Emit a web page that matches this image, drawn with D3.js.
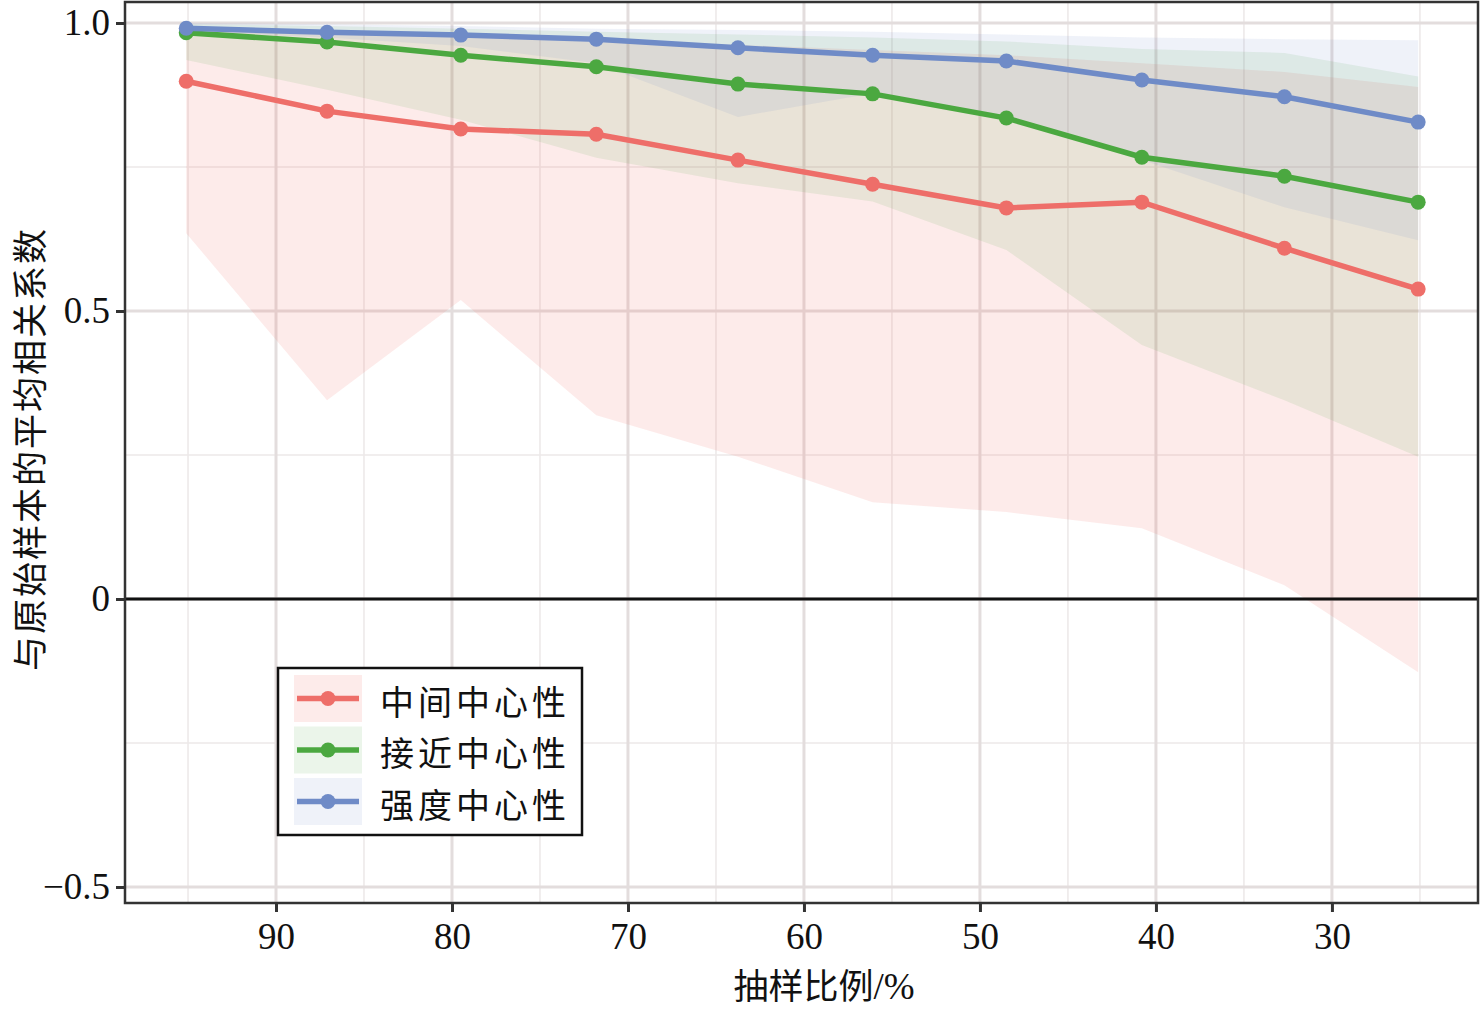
<!DOCTYPE html>
<html lang="zh">
<head>
<meta charset="utf-8">
<title>抽样比例与平均相关系数</title>
<script src="https://d3js.org/d3.v7.min.js"></script>
<style>
    body { margin: 0; background: #fff; }
    svg text { fill: #111; }
    .tick-label { font-family: "Liberation Serif", "DejaVu Serif", serif; font-size: 37px; }
    .cjk { font-family: "Noto Sans CJK SC", sans-serif; }
</style>
</head>
<body>
<div id="chart"></div>
<script>
    // sampling ratio (%) on the x axis
    const ratios = [95.1, 87.1, 79.5, 71.8, 63.75, 56.1, 48.5, 40.8, 32.7, 25.1];

    const seriesNames = ["中间中心性", "接近中心性", "强度中心性"];
    const seriesColors = ["#ee6e69", "#4ba840", "#6f8bc7"];

    // mean values
    const betweenMean = [0.899, 0.847, 0.816, 0.807, 0.762, 0.720, 0.679, 0.689, 0.609, 0.538];
    const closeMean   = [0.983, 0.967, 0.944, 0.924, 0.894, 0.877, 0.835, 0.767, 0.734, 0.689];
    const strengthMean = [0.991, 0.984, 0.979, 0.972, 0.957, 0.944, 0.934, 0.901, 0.872, 0.828];

    // ribbon bounds
    const betweenLow  = [0.635, 0.345, 0.519, 0.319, 0.247, 0.168, 0.151, 0.123, 0.024, -0.127];
    const betweenHigh = [0.990, 0.988, 0.980, 0.970, 0.962, 0.953, 0.944, 0.930, 0.915, 0.889];
    const closeLow  = [0.936, 0.884, 0.832, 0.766, 0.722, 0.690, 0.606, 0.441, 0.345, 0.247];
    const closeHigh = [0.998, 0.995, 0.990, 0.985, 0.980, 0.975, 0.968, 0.955, 0.948, 0.907];
    const strengthLow  = [0.985, 0.975, 0.960, 0.930, 0.837, 0.878, 0.835, 0.762, 0.680, 0.623];
    const strengthHigh = [1.000, 0.998, 0.995, 0.990, 0.988, 0.985, 0.980, 0.975, 0.972, 0.970];

    const yTicks = [1.0, 0.5, 0, -0.5];
    const yTickLabels = ["1.0", "0.5", "0", "\u22120.5"];
    const xTicks = [90, 80, 70, 60, 50, 40, 30];
    const xMinor = [95, 85, 75, 65, 55, 45, 35, 25];
    const yMinor = [0.75, 0.25, -0.25];

    const series = [
        {name: seriesNames[0], color: seriesColors[0], mean: betweenMean, low: betweenLow, high: betweenHigh},
        {name: seriesNames[1], color: seriesColors[1], mean: closeMean, low: closeLow, high: closeHigh},
        {name: seriesNames[2], color: seriesColors[2], mean: strengthMean, low: strengthLow, high: strengthHigh}
    ];

    const width = 1481, height = 1011;
    const panel = {left: 125, right: 1478, top: 2, bottom: 903};

    const svg = d3.select("#chart").append("svg")
        .attr("width", width)
        .attr("height", height);

    const x = d3.scaleLinear().domain([98.58, 21.7]).range([panel.left, panel.right]);
    const y = d3.scaleLinear().domain([1.0365, -0.5278]).range([panel.top, panel.bottom]);

    // grid
    const grid = svg.append("g");
    grid.selectAll(".minor-x").data(xMinor).enter().append("line")
        .attr("x1", d => x(d)).attr("x2", d => x(d))
        .attr("y1", panel.top).attr("y2", panel.bottom)
        .attr("stroke", "#ece8e8").attr("stroke-width", 1.5);
    grid.selectAll(".minor-y").data(yMinor).enter().append("line")
        .attr("x1", panel.left).attr("x2", panel.right)
        .attr("y1", d => y(d)).attr("y2", d => y(d))
        .attr("stroke", "#ece8e8").attr("stroke-width", 1.5);
    grid.selectAll(".major-x").data(xTicks).enter().append("line")
        .attr("x1", d => x(d)).attr("x2", d => x(d))
        .attr("y1", panel.top).attr("y2", panel.bottom)
        .attr("stroke", "#e3dddd").attr("stroke-width", 3);
    grid.selectAll(".major-y").data(yTicks).enter().append("line")
        .attr("x1", panel.left).attr("x2", panel.right)
        .attr("y1", d => y(d)).attr("y2", d => y(d))
        .attr("stroke", "#e3dddd").attr("stroke-width", 3);

    // ribbons
    const area = d3.area()
        .x(d => x(d.r))
        .y0(d => y(d.lo))
        .y1(d => y(d.hi));

    const ribbonAlpha = [0.14, 0.11, 0.11];
    series.forEach((s, k) => {
        const pts = ratios.map((r, i) => ({r: r, lo: s.low[i], hi: s.high[i]}));
        svg.append("path")
            .attr("d", area(pts))
            .attr("fill", s.color)
            .attr("fill-opacity", ribbonAlpha[k]);
    });

    // zero line
    svg.append("line")
        .attr("x1", panel.left).attr("x2", panel.right)
        .attr("y1", y(0)).attr("y2", y(0))
        .attr("stroke", "#111").attr("stroke-width", 3);

    // lines + points
    const line = d3.line().x(d => x(d.r)).y(d => y(d.v));
    series.forEach(s => {
        const pts = ratios.map((r, i) => ({r: r, v: s.mean[i]}));
        svg.append("path")
            .attr("d", line(pts))
            .attr("fill", "none")
            .attr("stroke", s.color)
            .attr("stroke-width", 5.5);
        svg.append("g").selectAll("circle").data(pts).enter().append("circle")
            .attr("cx", d => x(d.r))
            .attr("cy", d => y(d.v))
            .attr("r", 7.5)
            .attr("fill", s.color);
    });

    // panel border
    svg.append("rect")
        .attr("x", panel.left).attr("y", panel.top)
        .attr("width", panel.right - panel.left)
        .attr("height", panel.bottom - panel.top)
        .attr("fill", "none")
        .attr("stroke", "#333").attr("stroke-width", 2.5);

    // axes
    const yAxis = d3.axisLeft(y).tickValues(yTicks)
        .tickFormat((d, i) => yTickLabels[i]).tickSize(9).tickPadding(6);
    const yg = svg.append("g").attr("transform", `translate(${panel.left},0)`).call(yAxis);
    const xAxis = d3.axisBottom(x).tickValues(xTicks).tickSize(9).tickPadding(11);
    const xg = svg.append("g").attr("transform", `translate(0,${panel.bottom})`).call(xAxis);
    [yg, xg].forEach(g => {
        g.select(".domain").remove();
        g.selectAll(".tick line").attr("stroke", "#333").attr("stroke-width", 3);
        g.selectAll(".tick text").attr("class", "tick-label").attr("fill", "#111");
    });

    // axis titles
    svg.append("text")
        .attr("class", "cjk")
        .attr("transform", "translate(27,449) rotate(-90)")
        .attr("text-anchor", "middle")
        .attr("dominant-baseline", "central")
        .attr("font-size", 35)
        .attr("letter-spacing", 2)
        .text("与原始样本的平均相关系数");

    const xt = svg.append("text")
        .attr("x", 824).attr("y", 999)
        .attr("text-anchor", "middle")
        .attr("font-size", 35);
    xt.append("tspan").attr("class", "cjk").text("抽样比例");
    xt.append("tspan").attr("class", "tick-label").attr("font-size", 36).text("/%");

    // legend
    const legend = svg.append("g");
    legend.append("rect")
        .attr("x", 278).attr("y", 668)
        .attr("width", 304).attr("height", 167)
        .attr("fill", "#fff").attr("stroke", "#111").attr("stroke-width", 2.5);

    const items = legend.selectAll(".item").data(series).enter().append("g")
        .attr("transform", (d, i) => `translate(294,${675 + i * 51.5})`);
    items.append("rect")
        .attr("width", 68).attr("height", 47)
        .attr("fill", d => d.color).attr("fill-opacity", (d, i) => ribbonAlpha[i]);
    items.append("line")
        .attr("x1", 3).attr("x2", 65)
        .attr("y1", 23.5).attr("y2", 23.5)
        .attr("stroke", d => d.color).attr("stroke-width", 5.5);
    items.append("circle")
        .attr("cx", 34).attr("cy", 23.5).attr("r", 7.5)
        .attr("fill", d => d.color);
    items.append("text")
        .attr("class", "cjk")
        .attr("x", 86).attr("y", 25)
        .attr("dominant-baseline", "central")
        .attr("font-size", 34)
        .attr("letter-spacing", 4)
        .text(d => d.name);
</script>
</body>
</html>
